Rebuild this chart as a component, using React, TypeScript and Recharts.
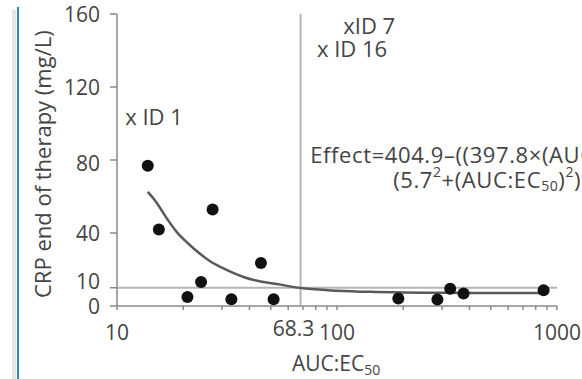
import {
  ComposedChart,
  Line,
  ReferenceDot,
  ReferenceLine,
  Scatter,
  XAxis,
  YAxis,
} from "recharts";

// patients: AUC:EC50 vs CRP at end of therapy
const auc = [13.8, 15.5, 20.9, 24.1, 27.2, 33.1, 45.1, 51.5, 190, 286, 327, 376, 869];
const crp = [76.8, 41.9, 4.9, 13.2, 52.9, 3.7, 23.6, 3.7, 4.1, 3.5, 9.5, 6.8, 8.6];

// fitted Emax curve
const fitAuc = [13.8, 15, 17, 18.7, 21, 24, 26.5, 30, 37.6, 45, 53.3, 70, 100, 150, 200, 300, 500, 870];
const fitCrp = [62.5, 57.3, 47.3, 40.5, 34.4, 28.3, 24.5, 21, 15.9, 13.4, 12.0, 9.7, 8.4, 7.7, 7.4, 7.2, 7.1, 7.1];

const xTicks = [10, 20, 30, 40, 50, 60, 70, 80, 90, 100, 200, 300, 400, 500, 600, 700, 800, 900, 1000];
const xLabelled = [10, 100, 1000];
const yTicks = [0, 10, 40, 80, 120, 160];
const cutoffAuc = 68.3;
const cutoffCrp = 10;

const notes = [
  { x: 10.9, y: 104, text: "x ID 1" },
  { x: 106.8, y: 154, text: "xID 7" },
  { x: 81.1, y: 141.4, text: "x ID 16" },
];

const FONT = "'Open Sans', sans-serif";
const TXT = "#444";
const AXIS = "#8a8a8a";

const points = auc.map((x, i) => ({ x, y: crp[i] }));
const fit = fitAuc.map((x, i) => ({ x, y: fitCrp[i] }));

function YTick(props: any) {
  const { x, y, payload } = props;
  const dy = payload.value === 10 ? -7 : payload.value === 80 ? 3 : 0;
  return (
    <text x={x} y={y + dy} textAnchor="end" dominantBaseline="central" fill={TXT} fontSize={21} fontFamily={FONT}>
      {payload.value}
    </text>
  );
}

function XTick(props: any) {
  const { x, y, payload } = props;
  if (!xLabelled.includes(payload.value)) return null;
  return (
    <text x={x} y={y + 20} textAnchor="middle" dominantBaseline="central" fill={TXT} fontSize={21} fontFamily={FONT}>
      {payload.value}
    </text>
  );
}

function Note({ viewBox, children }: any) {
  return (
    <text x={viewBox.x} y={viewBox.y} dominantBaseline="central" fill={TXT} fontSize={22} fontFamily={FONT}>
      {children}
    </text>
  );
}

export default function App() {
  return (
    <div style={{ position: "fixed", left: 0, top: 0, width: 582, height: 379, overflow: "hidden", background: "#fff" }}>
      <div style={{ position: "absolute", left: 12, top: 10, width: 4, height: 379, background: "#e6e6e6" }} />
      <div style={{ position: "absolute", left: 17, top: 7, width: 2, height: 379, background: "#2a84c8" }} />
      <ComposedChart width={582} height={379} margin={{ top: 14, right: 25, bottom: 0, left: 0 }}>
        <XAxis
          type="number"
          dataKey="x"
          scale="log"
          domain={[10, 1000]}
          ticks={xTicks}
          interval={0}
          allowDataOverflow
          height={73}
          stroke={AXIS}
          strokeWidth={1.5}
          tickSize={4}
          tick={<XTick />}
          label={({ viewBox }: any) => (
            <text x={viewBox.x + 175} y={viewBox.y + 57} dominantBaseline="central" fill={TXT} fontSize={21} fontFamily={FONT}>
              AUC:EC<tspan fontSize={14} dy={6}>50</tspan>
            </text>
          )}
        />
        <YAxis
          type="number"
          dataKey="y"
          domain={[0, 160]}
          ticks={yTicks}
          interval={0}
          allowDataOverflow
          width={117}
          stroke={AXIS}
          strokeWidth={1.5}
          tickSize={7}
          tickMargin={10}
          tick={<YTick />}
          label={() => (
            <text
              x={42}
              y={298}
              transform="rotate(-90, 42, 298)"
              textAnchor="start"
              dominantBaseline="central"
              fill={TXT}
              fontSize={22}
              fontFamily={FONT}
            >
              CRP end of therapy (mg/L)
            </text>
          )}
        />
        <ReferenceLine y={cutoffCrp} stroke="#b5b5b5" strokeWidth={2} />
        <ReferenceLine
          x={cutoffAuc}
          stroke="#b5b5b5"
          strokeWidth={2}
          label={({ viewBox }: any) => (
            <text
              x={viewBox.x - 7}
              y={viewBox.y + viewBox.height + 22}
              textAnchor="middle"
              dominantBaseline="central"
              fill={TXT}
              fontSize={21}
              fontFamily={FONT}
            >
              {cutoffAuc}
            </text>
          )}
        />
        <Line
          data={fit}
          dataKey="y"
          type="monotone"
          stroke="#5a5a5a"
          strokeWidth={2.5}
          dot={false}
          isAnimationActive={false}
        />
        <Scatter
          data={points}
          dataKey="y"
          fill="#111"
          shape={(p: any) => <circle cx={p.cx} cy={p.cy} r={6} fill="#111" />}
          isAnimationActive={false}
        />
        {notes.map((n) => (
          <ReferenceDot
            key={n.text}
            x={n.x}
            y={n.y}
            r={0}
            ifOverflow="visible"
            label={({ viewBox }: any) => <Note viewBox={viewBox}>{n.text}</Note>}
          />
        ))}
        <ReferenceDot
          x={75.6}
          y={83.2}
          r={0}
          ifOverflow="visible"
          label={({ viewBox }: any) => (
            <text x={viewBox.x} y={viewBox.y} dominantBaseline="central" fill={TXT} fontSize={22} letterSpacing={0.6} fontFamily={FONT}>
              Effect=404.9–((397.8×(AUC:EC<tspan fontSize={14} dy={6}>50</tspan>
              <tspan dy={-6}>)</tspan>
              <tspan fontSize={14} dy={-8}>2</tspan>
              <tspan dy={8}>)/</tspan>
            </text>
          )}
        />
        <ReferenceDot
          x={180}
          y={69.5}
          r={0}
          ifOverflow="visible"
          label={({ viewBox }: any) => (
            <text x={viewBox.x} y={viewBox.y} dominantBaseline="central" fill={TXT} fontSize={22} letterSpacing={0.6} fontFamily={FONT}>
              (5.7<tspan fontSize={14} dy={-8}>2</tspan>
              <tspan dy={8}>+(AUC:EC</tspan>
              <tspan fontSize={14} dy={6}>50</tspan>
              <tspan dy={-6}>)</tspan>
              <tspan fontSize={14} dy={-8}>2</tspan>
              <tspan dy={8}>)</tspan>
            </text>
          )}
        />
      </ComposedChart>
    </div>
  );
}
